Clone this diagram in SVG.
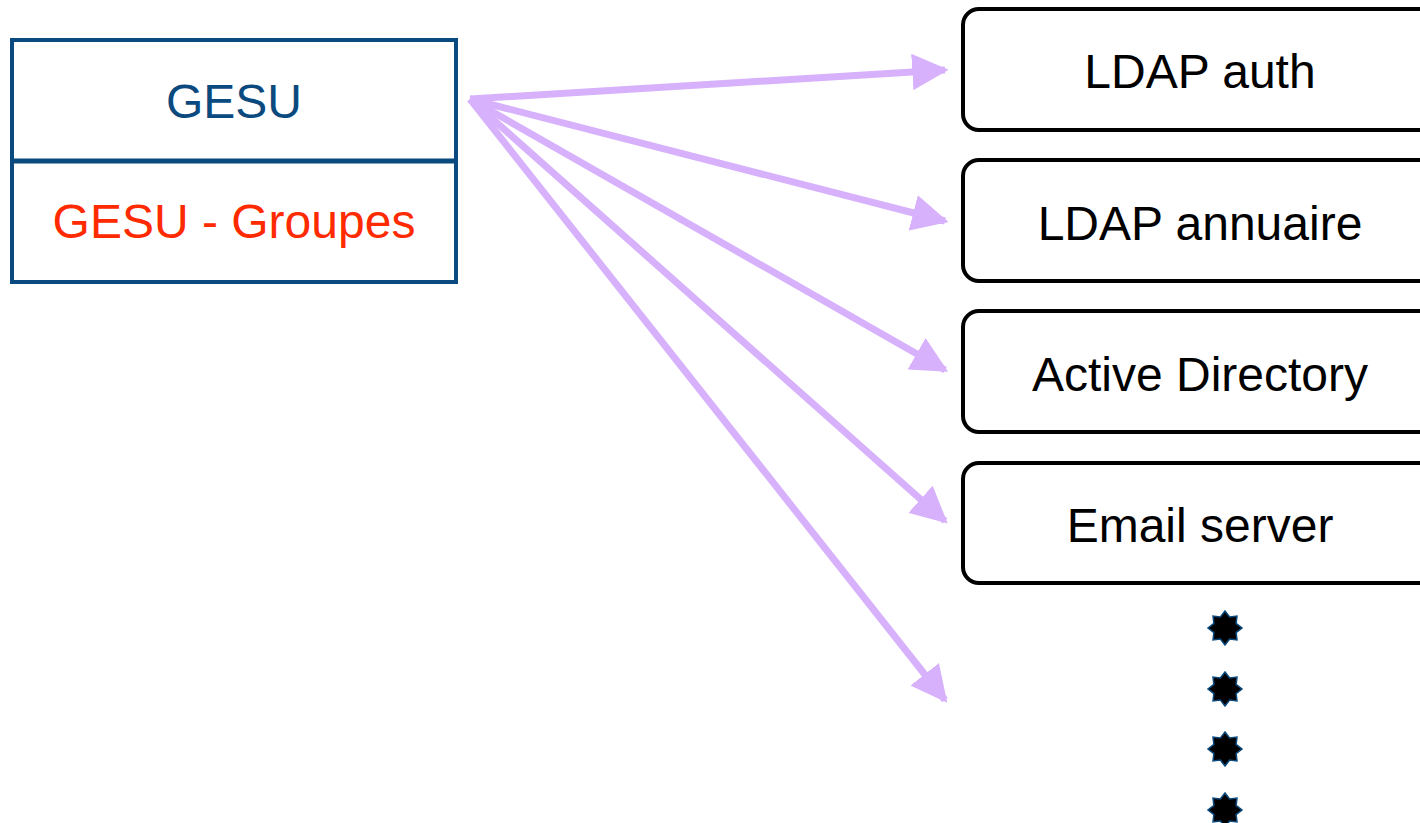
<svg xmlns="http://www.w3.org/2000/svg" width="1420" height="823" viewBox="0 0 1420 823">
  <style>
    .lbl { font-family: "Liberation Sans", Arial, sans-serif; font-size: 48px; text-anchor: middle; }
    .sys { fill: #ffffff; stroke: #000000; stroke-width: 4; }
    .conn { stroke: #d7b1fb; stroke-width: 7; fill: none; marker-end: url(#head); }
    .dot { fill: #000000; stroke: #0b4a7e; stroke-width: 1.5; }
  </style>
  <defs>
    <marker id="head" viewBox="0 0 10 10" refX="9" refY="5" markerWidth="5.2" markerHeight="5.2" markerUnits="strokeWidth" orient="auto">
      <path d="M0,0 L10,5 L0,10 z" fill="#d7b1fb"/>
    </marker>
    <polygon id="star" points="0,-17 4.6,-11.1 12,-12 11.1,-4.6 17,0 11.1,4.6 12,12 4.6,11.1 0,17 -4.6,11.1 -12,12 -11.1,4.6 -17,0 -11.1,-4.6 -12,-12 -4.6,-11.1"/>
  </defs>
  <rect width="1420" height="823" fill="#ffffff"/>

  <!-- connectors -->
  <g id="connectors">
    <line class="conn" x1="470" y1="99" x2="945" y2="70"/>
    <line class="conn" x1="470" y1="99" x2="945" y2="221"/>
    <line class="conn" x1="470" y1="99" x2="945" y2="370"/>
    <line class="conn" x1="470" y1="99" x2="945" y2="521"/>
    <line class="conn" x1="470" y1="99" x2="945" y2="700"/>
  </g>

  <!-- source system -->
  <g id="gesu">
    <rect x="12" y="40" width="444" height="242" fill="#ffffff" stroke="#0b4a7e" stroke-width="4"/>
    <line x1="12" y1="161" x2="456" y2="161" stroke="#0b4a7e" stroke-width="5"/>
    <text class="lbl" x="234" y="118" fill="#0b4a7e">GESU</text>
    <text class="lbl" x="234" y="238" fill="#ff2a00">GESU - Groupes</text>
  </g>

  <!-- target systems -->
  <g id="ldap-auth">
    <rect class="sys" x="963" y="9" width="480" height="121" rx="16"/>
    <text class="lbl" x="1200" y="88">LDAP auth</text>
  </g>
  <g id="ldap-annuaire">
    <rect class="sys" x="963" y="160" width="480" height="121" rx="16"/>
    <text class="lbl" x="1200" y="240">LDAP annuaire</text>
  </g>
  <g id="active-directory">
    <rect class="sys" x="963" y="311" width="480" height="121" rx="16"/>
    <text class="lbl" x="1200" y="391">Active Directory</text>
  </g>
  <g id="email-server">
    <rect class="sys" x="963" y="463" width="480" height="120" rx="16"/>
    <text class="lbl" x="1200" y="542">Email server</text>
  </g>

  <!-- continuation marks -->
  <g id="more">
    <use href="#star" class="dot" x="1225" y="628"/>
    <use href="#star" class="dot" x="1225" y="689"/>
    <use href="#star" class="dot" x="1225" y="749"/>
    <use href="#star" class="dot" x="1225" y="810"/>
  </g>
</svg>
